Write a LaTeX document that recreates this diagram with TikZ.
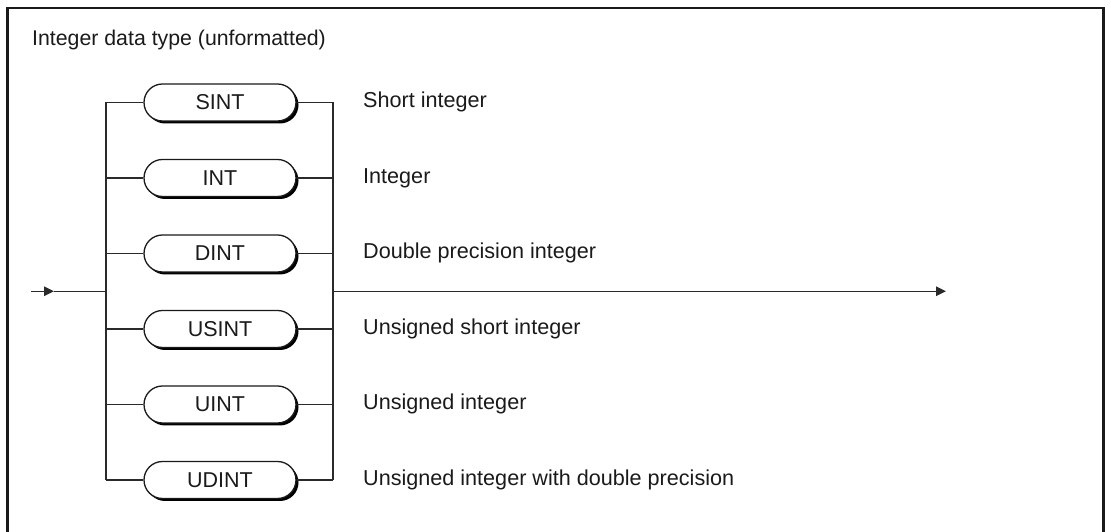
\documentclass[tikz,border=0pt]{standalone}
\usepackage{fontspec}
\setmainfont{Liberation Sans}
\usetikzlibrary{shapes.misc,shadows,arrows.meta}
\definecolor{ink}{HTML}{1A1A1A}
\definecolor{wire}{HTML}{2A2A2A}
\begin{document}
\begin{tikzpicture}[x=1pt,y=1pt,
  pill/.style={rounded rectangle, draw=ink, line width=1.3pt, fill=white,
    minimum width=152pt, minimum height=37pt, inner sep=0pt,
    text height=15pt, text depth=0pt, text=ink,
    font=\fontsize{21.5}{24}\selectfont,
    drop shadow={shadow xshift=2.5pt, shadow yshift=-2.5pt, fill=black, opacity=1}},
  lbl/.style={anchor=base west, inner sep=0pt, text=ink, font=\fontsize{21.6}{24}\selectfont},
  wireline/.style={draw=wire, line width=1.4pt},
  tip/.style={-{Triangle[length=10pt,width=9.5pt]}}
]
\useasboundingbox (0,0) rectangle (1111,532);
% frame
\draw[line width=2.2pt, draw=ink] (7.5,-2) -- (7.5,524) -- (1103.5,524) -- (1103.5,-2);
\node[lbl, font=\fontsize{21.3}{24}\selectfont] (title) at (32,486) {Integer data type (unformatted)};
% rows
\foreach \n/\t/\d/\y in {1/SINT/Short integer/429.5, 2/INT/Integer/354, 3/DINT/Double precision integer/278.5,
  4/USINT/Unsigned short integer/203, 5/UINT/Unsigned integer/127.5, 6/UDINT/Unsigned integer with double precision/52}{
  \node[pill] (p\n) at (220,\y) {\t};
  \coordinate (L\n) at (106,\y);
  \coordinate (R\n) at (333,\y);
  \node[lbl] (d\n) at (363,\y-5.5) {\d};
  \draw[wireline] (L\n) -- (p\n.west);
  \draw[wireline] (p\n.east) -- (R\n);
}
\draw[wireline] (L1) -- (L6);
\draw[wireline] (R1) -- (R6);
% main line
\coordinate (s) at (31,240.75);
\coordinate (m) at (54,240.75);
\coordinate (Lm) at (106,240.75);
\coordinate (Rm) at (333,240.75);
\coordinate (e) at (946,240.75);
\draw[wireline,tip] (s) -- (m);
\draw[wireline] (m) -- (Lm);
\draw[wireline,tip] (Rm) -- (e);
\end{tikzpicture}
\end{document}
